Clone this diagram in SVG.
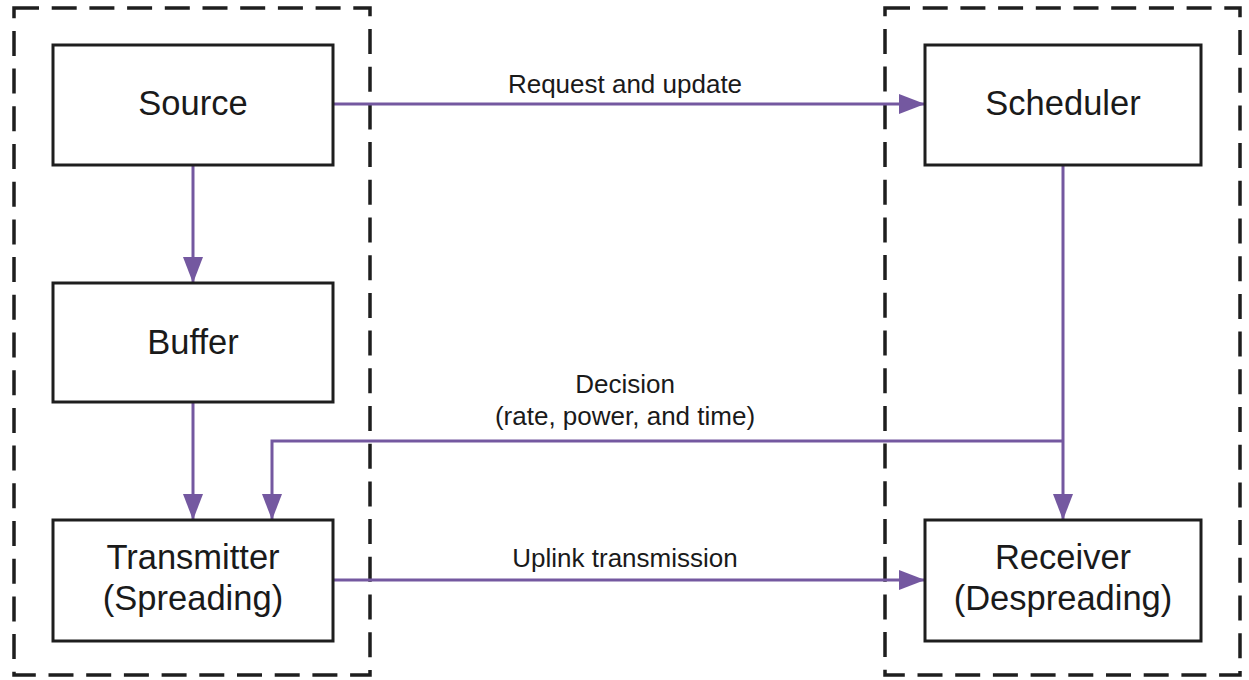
<svg xmlns="http://www.w3.org/2000/svg" width="1249" height="680" viewBox="0 0 1249 680">
<style>
.group{fill:none;stroke:#1e1e1e;stroke-width:3.5;stroke-dasharray:25 12.7}
.box{fill:#fff;stroke:#1e1e1e;stroke-width:3}
.nt{font-family:"Liberation Sans",Arial,sans-serif;font-size:34.5px;fill:#1a1a1a;text-anchor:middle}
.lt{font-family:"Liberation Sans",Arial,sans-serif;font-size:26px;fill:#1a1a1a;text-anchor:middle}
.c{fill:none;stroke:#7458a0;stroke-width:3;marker-end:url(#ah)}
</style>
<defs>
<marker id="ah" viewBox="0 0 26 20" refX="26" refY="10" markerWidth="26" markerHeight="20" markerUnits="userSpaceOnUse" orient="auto">
<path d="M0,0 L26,10 L0,20 Z" fill="#7458a0"/>
</marker>
</defs>
<rect width="1249" height="680" fill="#fff"/>
<g id="groups">
<rect class="group" x="14" y="8" width="356" height="667"/>
<rect class="group" x="885" y="8" width="355" height="667"/>
</g>
<g id="connectors">
<path class="c" d="M333,104 H925"/>
<path class="c" d="M193,165 V283"/>
<path class="c" d="M193,402 V520"/>
<path class="c" d="M1063,165 V520"/>
<path class="c" d="M1063,441 H272 V520"/>
<path class="c" d="M333,580 H925"/>
<text class="lt" x="625" y="93">Request and update</text>
<text class="lt" x="625" y="393">Decision</text>
<text class="lt" x="625" y="425">(rate, power, and time)</text>
<text class="lt" x="625" y="567">Uplink transmission</text>
</g>
<g id="source">
<rect class="box" x="53" y="45" width="280" height="120"/>
<text class="nt" x="193" y="115">Source</text>
</g>
<g id="buffer">
<rect class="box" x="53" y="283" width="280" height="119"/>
<text class="nt" x="193" y="354">Buffer</text>
</g>
<g id="transmitter">
<rect class="box" x="53" y="520" width="280" height="121"/>
<text class="nt" x="193" y="569">Transmitter</text>
<text class="nt" x="193" y="610">(Spreading)</text>
</g>
<g id="scheduler">
<rect class="box" x="925" y="45" width="276" height="120"/>
<text class="nt" x="1063" y="115">Scheduler</text>
</g>
<g id="receiver">
<rect class="box" x="925" y="520" width="276" height="121"/>
<text class="nt" x="1063" y="569">Receiver</text>
<text class="nt" x="1063" y="610">(Despreading)</text>
</g>
</svg>
